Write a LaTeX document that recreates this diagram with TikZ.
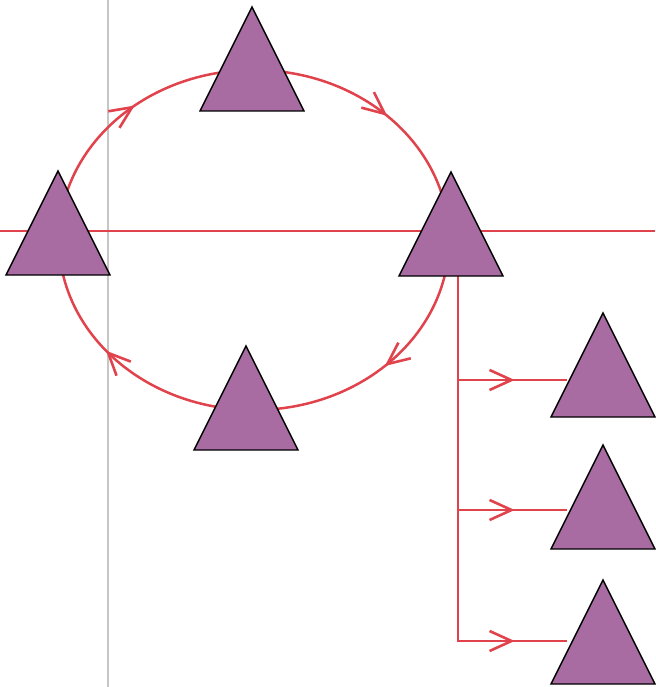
\documentclass[tikz,border=0pt]{standalone}
\usetikzlibrary{shapes.geometric,arrows.meta,decorations.markings,backgrounds}
\definecolor{tripurple}{HTML}{A86CA3}
\definecolor{linered}{HTML}{E0434B}
\definecolor{axisgray}{HTML}{C6C6C6}
\tikzset{
  tri/.style={isosceles triangle, isosceles triangle stretches, shape border rotate=90,
    minimum width=104pt, minimum height=104pt, inner sep=0pt, outer sep=0pt,
    fill=tripurple, draw=black, line width=1.4pt, anchor=apex},
  conn/.style={draw=linered, line width=2.5pt},
  midarrow/.style={postaction={decorate}, decoration={markings,
    mark=at position #1 with {\arrow[linered]{Straight Barb[length=22pt,width=20pt,line width=2.6pt]}}}},
  midarrow/.default=0.5,
}
\begin{document}
\begin{tikzpicture}[x=1pt,y=1pt]
\useasboundingbox (0,0) rectangle (655,-687);
% nodes
\node[tri] (top) at (252,-7) {};
\node[tri] (left) at (58,-171) {};
\node[tri] (right) at (451,-172) {};
\node[tri] (bottom) at (246,-346) {};
\node[tri] (r1) at (603,-313) {};
\node[tri] (r2) at (603,-445) {};
\node[tri] (r3) at (603,-580) {};
% ellipse points
\coordinate (pL) at (59,-240);
\coordinate (pT) at (254,-70);
\coordinate (pR) at (449,-240);
\coordinate (pB) at (254,-410);
\coordinate (trunk) at (458,-276);
\coordinate (j1) at (458,-380);
\coordinate (j2) at (458,-510);
\coordinate (j3) at (458,-641);
\begin{scope}[on background layer]
  \draw[axisgray, line width=2.8pt] (108,0) -- (108,-687);
  \draw[conn] (0,-231) -- (655,-231);
  \draw[conn, midarrow=0.56] (pL) arc[start angle=180, end angle=90, x radius=195pt, y radius=170pt];
  \draw[conn, midarrow=0.5] (pT) arc[start angle=90, end angle=0, x radius=195pt, y radius=170pt];
  \draw[conn, midarrow=0.51] (pR) arc[start angle=0, end angle=-90, x radius=195pt, y radius=170pt];
  \draw[conn, midarrow=0.57] (pB) arc[start angle=-90, end angle=-180, x radius=195pt, y radius=170pt];
  \draw[conn, line cap=rect] (trunk) -- (j3);
  \draw[conn, midarrow=0.52] (j1) -- (j1 -| r1.west);
  \draw[conn, midarrow=0.52] (j2) -- (j2 -| r2.west);
  \draw[conn, midarrow=0.52] (j3) -- (j3 -| r3.west);
\end{scope}
\end{tikzpicture}
\end{document}
